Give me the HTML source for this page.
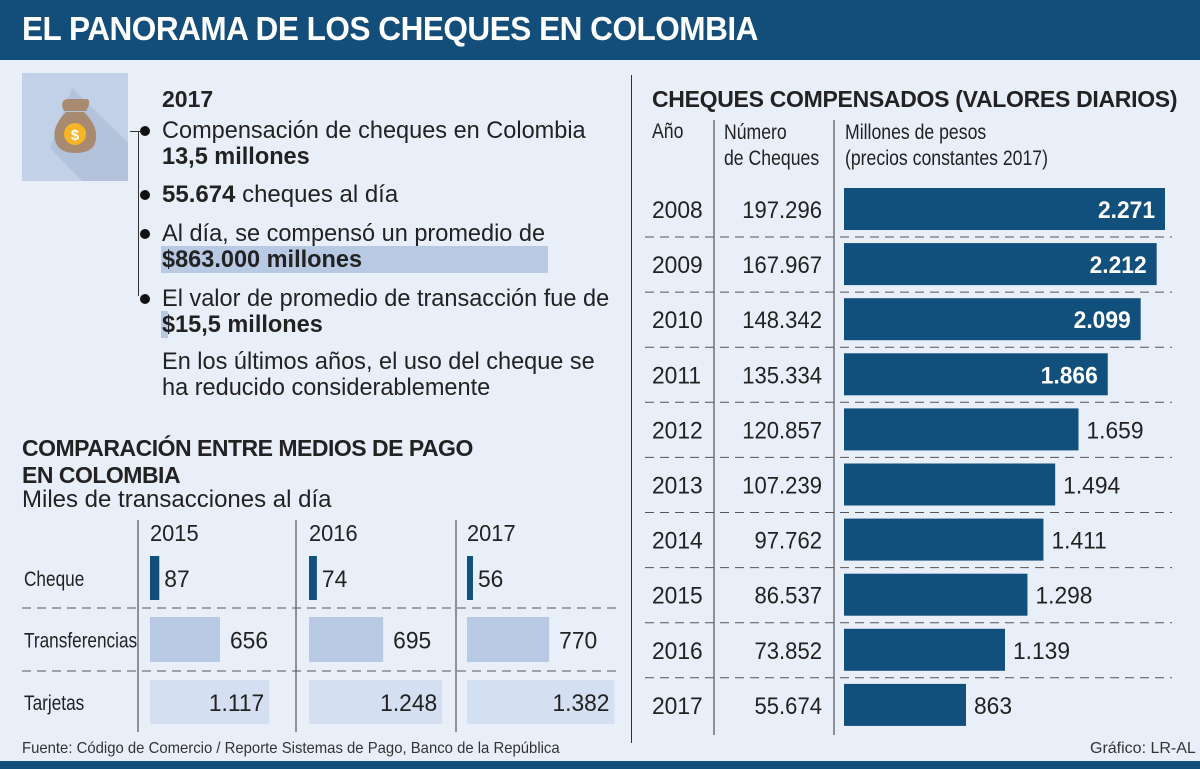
<!DOCTYPE html>
<html><head><meta charset="utf-8"><style>
body{margin:0;width:1200px;height:769px;background:#e9eff9;font-family:"Liberation Sans",sans-serif;color:#222;position:relative;overflow:hidden}
.a{position:absolute;white-space:nowrap}
.b{font-weight:bold}
.n{transform:scaleX(0.84);transform-origin:0 0}
</style></head><body>
<div class="a" style="left:0;top:0;width:1200px;height:60px;background:#134d79"></div>
<div class="a b" style="left:22px;top:10px;font-size:33px;color:#fff;letter-spacing:-0.5px;transform:scaleX(0.955);transform-origin:0 0">EL PANORAMA DE LOS CHEQUES EN COLOMBIA</div>
<div class="a" style="left:0;top:761px;width:1200px;height:8px;background:#134d79"></div>
<div class="a" style="left:631px;top:75px;width:1px;height:668px;background:#333"></div>

<svg class="a" style="left:22px;top:73px" width="106" height="108">
<rect width="106" height="108" fill="#c3d1e8"/>
<polygon points="50,15 106,70 106,108 60,108 28,75" fill="#b4c3dc"/>
<path d="M42,38 Q37,28 45,26 L65,26 Q70,28 64,38 Z" fill="#a78a70"/>
<path d="M44,39 Q28,55 34,70 Q38,80 53,80 Q70,80 73,70 Q78,55 62,39 Z" fill="#a78a70"/>
<circle cx="53" cy="61" r="11" fill="#f5b526"/><text x="53" y="67" text-anchor="middle" font-size="15" fill="#fff" font-weight="bold">$</text>
</svg>
<div class="a" style="left:138px;top:131px;width:1px;height:165px;background:#333"></div>
<div class="a" style="left:130px;top:131px;width:18px;height:1px;background:#333"></div>
<div class="a b" style="left:162px;top:86px;font-size:23px">2017</div>
<div class="a" style="left:161px;top:246px;width:387px;height:27px;background:#b8c9e4"></div>
<div class="a" style="left:161px;top:311px;width:7px;height:27px;background:#b8c9e4"></div>
<div style="font-size:24px;line-height:26px">
<div class="a" style="left:162px;top:118px;transform:scaleX(0.98);transform-origin:0 0">Compensación de cheques en Colombia<br><b>13,5 millones</b></div>
<div class="a" style="left:162px;top:182px"><b>55.674</b> cheques al día</div>
<div class="a" style="left:162px;top:221px;transform:scaleX(0.98);transform-origin:0 0">Al día, se compensó un promedio de<br><b>$863.000 millones</b></div>
<div class="a" style="left:162px;top:286px;transform:scaleX(0.98);transform-origin:0 0">El valor de promedio de transacción fue de<br><b>$15,5 millones</b></div>
<div class="a" style="left:162px;top:349px;transform:scaleX(0.98);transform-origin:0 0">En los últimos años, el uso del cheque se<br>ha reducido considerablemente</div>
</div>
<div class="a" style="left:140px;top:126px;width:10px;height:10px;border-radius:50%;background:#111"></div>
<div class="a" style="left:140px;top:190px;width:10px;height:10px;border-radius:50%;background:#111"></div>
<div class="a" style="left:140px;top:229px;width:10px;height:10px;border-radius:50%;background:#111"></div>
<div class="a" style="left:140px;top:294px;width:10px;height:10px;border-radius:50%;background:#111"></div>

<div class="a b" style="left:22px;top:435px;font-size:23px;line-height:27px;letter-spacing:-0.5px">COMPARACIÓN ENTRE MEDIOS DE PAGO<br>EN COLOMBIA</div>
<div class="a" style="left:22px;top:486px;font-size:24px">Miles de transacciones al día</div>
<svg class="a" id="left" style="left:0;top:0" width="631" height="769"></svg>

<div class="a b" style="left:652px;top:86px;font-size:23px;letter-spacing:-0.3px">CHEQUES COMPENSADOS (VALORES DIARIOS)</div>
<div class="a n" style="left:652px;top:120px;font-size:21px">Año</div>
<div class="a n" style="left:724px;top:120px;font-size:21px;line-height:26px">Número<br>de Cheques</div>
<div class="a n" style="left:845px;top:120px;font-size:21px;line-height:26px">Millones de pesos<br>(precios constantes 2017)</div>
<svg class="a" id="right" style="left:0;top:0" width="1200" height="769"></svg>

<div class="a" style="left:22px;top:740px;font-size:16px;color:#333;transform:scaleX(0.93);transform-origin:0 0">Fuente: Código de Comercio / Reporte Sistemas de Pago, Banco de la República</div>
<div class="a" style="left:1090px;top:740px;font-size:16px;color:#333">Gráfico: LR-AL</div>

<script>
const years=["2008","2009","2010","2011","2012","2013","2014","2015","2016","2017"];
const numCheques=["197.296","167.967","148.342","135.334","120.857","107.239","97.762","86.537","73.852","55.674"];
const values=[2271,2212,2099,1866,1659,1494,1411,1298,1139,863];
const valueLabels=["2.271","2.212","2.099","1.866","1.659","1.494","1.411","1.298","1.139","863"];
const cmpYears=["2015","2016","2017"];
const cmpCategories=["Cheque","Transferencias","Tarjetas"];
const cmpCheque=[87,74,56];
const cmpTransfer=[656,695,770];
const cmpCards=[1117,1248,1382];
const cmpLabels=[["87","74","56"],["656","695","770"],["1.117","1.248","1.382"]];

const NS="http://www.w3.org/2000/svg";
function mk(svg,tag,at,txt){const e=document.createElementNS(NS,tag);for(const k in at)e.setAttribute(k,at[k]);if(txt!==undefined)e.textContent=txt;svg.appendChild(e);return e;}
const FF="Liberation Sans, sans-serif";
function ntext(svg,x,y,txt,at,sx){const a=Object.assign({x:0,y:0,'font-family':FF,fill:'#222',transform:'translate('+x+','+y+') scale('+sx+',1)'},at);return mk(svg,'text',a,txt);}

const R=document.getElementById('right');
const x0=844, xs=v=>v*(321/2271), rowY=i=>209+i*55.1;
mk(R,'line',{x1:714,y1:120,x2:714,y2:735,stroke:'#333'});
mk(R,'line',{x1:834,y1:120,x2:834,y2:735,stroke:'#333'});
years.forEach((y,i)=>{
 const c=rowY(i);
 if(i<years.length-1){const d=mk(R,'line',{x1:645,y1:c+28,x2:1172,y2:c+28,stroke:'#555','stroke-dasharray':'9,6'});
 
 }
 const t=ntext(R,652,c+9,y,{'font-size':24},0.95);
 
 
 const n=ntext(R,822,c+9,numCheques[i],{'font-size':24,'text-anchor':'end'},0.92);
 
 
 const w=xs(values[i]);
 const r=mk(R,'rect',{x:x0,y:c-21,width:w,height:42,fill:'#114f7d'});
 
 
 const inside=values[i]>1800;
 const l=ntext(R,inside?x0+w-10:x0+w+8,c+9,valueLabels[i],{'font-size':24,'font-weight':inside?'bold':'normal',fill:inside?'#fff':'#222','text-anchor':inside?'end':'start'},0.95);
 
 
});

const L=document.getElementById('left');
const colX=[150,309,467], ls=v=>v*(70/656);
const rowTop=[556,617,680], rowH=[44,45,44];
const fills=['#114f7d','#b8c9e4','#d4e0f2'];
const series=[cmpCheque,cmpTransfer,cmpCards];
[138,296,456].forEach(x=>mk(L,'line',{x1:x,y1:520,x2:x,y2:732,stroke:'#333'}));
[608,671].forEach(y=>mk(L,'line',{x1:22,y1:y,x2:618,y2:y,stroke:'#555','stroke-dasharray':'9,6'}));
cmpCategories.forEach((c,r)=>{
 const t=ntext(L,24,rowTop[r]+rowH[r]/2+8,c,{'font-size':21},0.82);
 
 
});
cmpYears.forEach((y,j)=>{
 const t=ntext(L,colX[j],541,y,{'font-size':23},0.95);
 
 
 series.forEach((s,r)=>{
  const w=ls(s[j]);
  const b=mk(L,'rect',{x:colX[j],y:rowTop[r],width:w,height:rowH[r],fill:fills[r]});
  
  
  let lx,anchor;
  if(r===0){lx=colX[j]+w+5;anchor='start';}
  else if(r===1){lx=colX[j]+w+10;anchor='start';}
  else {lx=colX[j]+w-5;anchor='end';}
  const l=ntext(L,lx,rowTop[r]+rowH[r]/2+9,cmpLabels[r][j],{'font-size':24,'text-anchor':anchor},0.95);
  
  
 });
});
</script>
</body></html>
